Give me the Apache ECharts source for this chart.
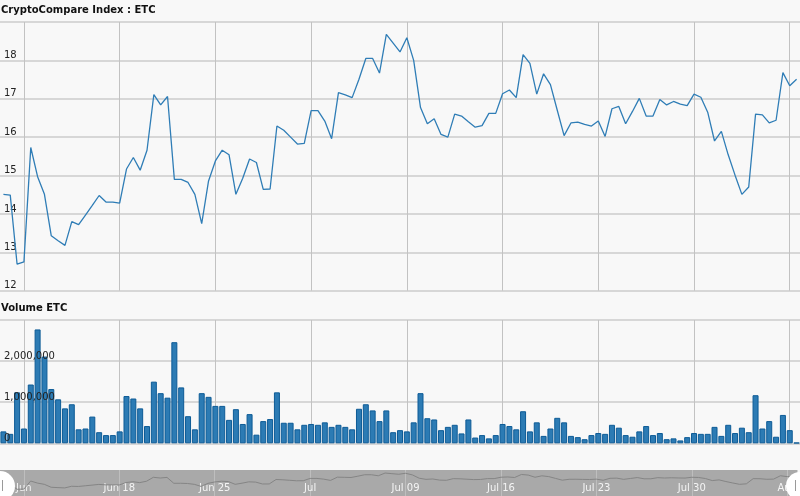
<!DOCTYPE html>
<html><head><meta charset="utf-8">
<script src="https://cdn.jsdelivr.net/npm/echarts@6/dist/echarts.min.js"></script>
<style>html,body{margin:0;padding:0;background:#f8f8f8}#c{width:800px;height:496px}</style>
</head><body><div id="c"></div>
<script>
// 12-hour slots, slot 0 = Jun 9 12:00
const price = [14.51,14.49,12.69,12.75,15.73,14.97,14.51,13.43,13.30,13.18,
13.80,13.72,13.97,14.22,14.48,14.31,14.31,14.28,15.17,15.47,
15.14,15.66,17.11,16.84,17.06,14.90,14.90,14.82,14.51,13.75,
14.86,15.38,15.66,15.54,14.51,14.93,15.43,15.34,14.64,14.65,
16.29,16.18,16.00,15.82,15.84,16.69,16.69,16.42,15.96,17.16,
17.10,17.03,17.51,18.05,18.05,17.67,18.68,18.45,18.22,18.59,
18.00,16.77,16.35,16.48,16.07,16.00,16.60,16.55,16.40,16.26,
16.30,16.62,16.62,17.13,17.23,17.03,18.15,17.92,17.12,17.65,
17.37,16.70,16.04,16.37,16.39,16.33,16.29,16.42,16.02,16.74,
16.80,16.35,16.67,17.01,16.55,16.55,16.98,16.84,16.93,16.86,
16.82,17.12,17.04,16.65,15.90,16.15,15.54,15.01,14.51,14.70,
16.60,16.58,16.37,16.44,17.68,17.34,17.51];
const volume = [290000,230000,1240000,360000,1430000,2770000,2110000,1320000,1070000,850000,
950000,340000,360000,650000,270000,200000,200000,290000,1150000,1090000,
850000,420000,1500000,1220000,1110000,2460000,1360000,660000,340000,1220000,
1130000,910000,910000,570000,830000,470000,710000,210000,540000,590000,
1240000,500000,500000,340000,450000,470000,450000,510000,400000,450000,
400000,340000,840000,950000,800000,540000,800000,270000,320000,290000,
510000,1220000,610000,580000,320000,400000,450000,240000,580000,140000,
200000,120000,200000,470000,420000,340000,780000,290000,510000,180000,
360000,620000,510000,180000,150000,100000,200000,250000,230000,450000,
380000,200000,160000,290000,420000,200000,250000,100000,120000,70000,
150000,250000,230000,230000,400000,180000,450000,250000,380000,270000,
1170000,360000,540000,160000,690000,320000,15000];
const weekSlots = [3,17,31,45,59,73,87,101,115];
const weekLabels = ['Jun','Jun 18','Jun 25','Jul','Jul 09','Jul 16','Jul 23','Jul 30','Aug'];
const priceTicks = [12,13,14,15,16,17,18];
const volumeTicks = [0,1000000,2000000];

const FONT = 'DejaVu Sans';
const priceData = price.map((v,i)=>[i,v]);
const volumeData = volume.map((v,i)=>[i,v]);

function xAx(grid, labels) {
  return {
    type:'value', gridIndex:grid, min:-0.5, max:116.5,
    axisLine:{show:false},
    axisTick:{show:false, customValues:weekSlots},
    axisLabel: labels ? {
      show:true, inside:true, customValues:weekSlots, margin:8,
      verticalAlign:'middle', color:'#f4f4f4', fontFamily:FONT, fontSize:10,
      formatter:(v)=>weekLabels[weekSlots.indexOf(Math.round(v))] || ''
    } : {show:false, customValues:weekSlots},
    splitLine:{show:true, lineStyle:{color: labels ? 'rgba(255,255,255,0.25)' : '#c2c2c2', width:1}}
  };
}

const chart = echarts.init(document.getElementById('c'), null, {renderer:'canvas'});
chart.setOption({
  animation:false,
  backgroundColor:'#f8f8f8',
  textStyle:{fontFamily:FONT},
  title:[
    {text:'CryptoCompare Index : ETC', left:0, top:5, padding:[0,0,0,1],
     textStyle:{fontFamily:FONT, fontSize:10, fontWeight:'bold', color:'#111'}},
    {text:'Volume ETC', left:0, top:303, padding:[0,0,0,1],
     textStyle:{fontFamily:FONT, fontSize:10, fontWeight:'bold', color:'#111'}}
  ],
  grid:[
    {left:0, right:0, top:22, height:268.7},
    {left:0, right:0, top:320, height:123.3},
    {left:0, right:0, top:470, height:26, show:true, backgroundColor:'#a9a9a9', borderWidth:0}
  ],
  xAxis:[xAx(0,false), xAx(1,false), xAx(2,true)],
  yAxis:[
    {type:'value', gridIndex:0, min:12, max:19, interval:1,
     axisLine:{show:false}, axisTick:{show:false},
     axisLabel:{inside:true, margin:4, verticalAlign:'bottom', color:'#222', fontFamily:FONT, fontSize:10,
       showMaxLabel:false, formatter:(v)=>priceTicks.includes(v)?String(v):''},
     splitLine:{lineStyle:{color:'#cdcdcd', width:1.5}}},
    {type:'value', gridIndex:1, min:0, max:3000000, interval:1000000, position:'left',
     axisLine:{show:false}, axisTick:{show:false}, axisLabel:{show:false},
     splitLine:{lineStyle:{color:'#cdcdcd', width:1.5}}},
    {type:'value', gridIndex:1, min:0, max:3000000, interval:1000000, position:'left', z:10,
     axisLine:{show:false}, axisTick:{show:false}, splitLine:{show:false},
     axisLabel:{inside:true, margin:4, verticalAlign:'bottom', color:'#222', fontFamily:FONT, fontSize:10,
       showMaxLabel:false, formatter:(v)=>volumeTicks.includes(v)?v.toLocaleString('en-US'):''}},
    {type:'value', gridIndex:2, min:10.2, max:19.8, show:false, splitLine:{show:false}}
  ],
  series:[
    {type:'line', xAxisIndex:0, yAxisIndex:0, data:priceData, showSymbol:false, symbol:'none',
     lineStyle:{color:'#2f7db6', width:1.3}, z:3},
    {type:'bar', xAxisIndex:1, yAxisIndex:1, data:volumeData, barWidth:6,
     itemStyle:{color:'#2c7bb4', borderColor:'#0d5b96', borderWidth:1}},
    {type:'line', xAxisIndex:2, yAxisIndex:3, data:priceData, showSymbol:false, symbol:'none',
     lineStyle:{color:'#858585', width:1}}
  ],
  graphic:[
    {type:'circle', shape:{cx:0, cy:486, r:15}, style:{fill:'#ffffff'}, z:100},
    {type:'rect', shape:{x:2, y:480, width:1, height:11}, style:{fill:'#9a9a9a'}, z:101},
    {type:'circle', shape:{cx:800, cy:486, r:14}, style:{fill:'#ffffff'}, z:100},
    {type:'rect', shape:{x:795, y:480, width:1, height:11}, style:{fill:'#9a9a9a'}, z:101}
  ]
});
</script>
</body></html>
